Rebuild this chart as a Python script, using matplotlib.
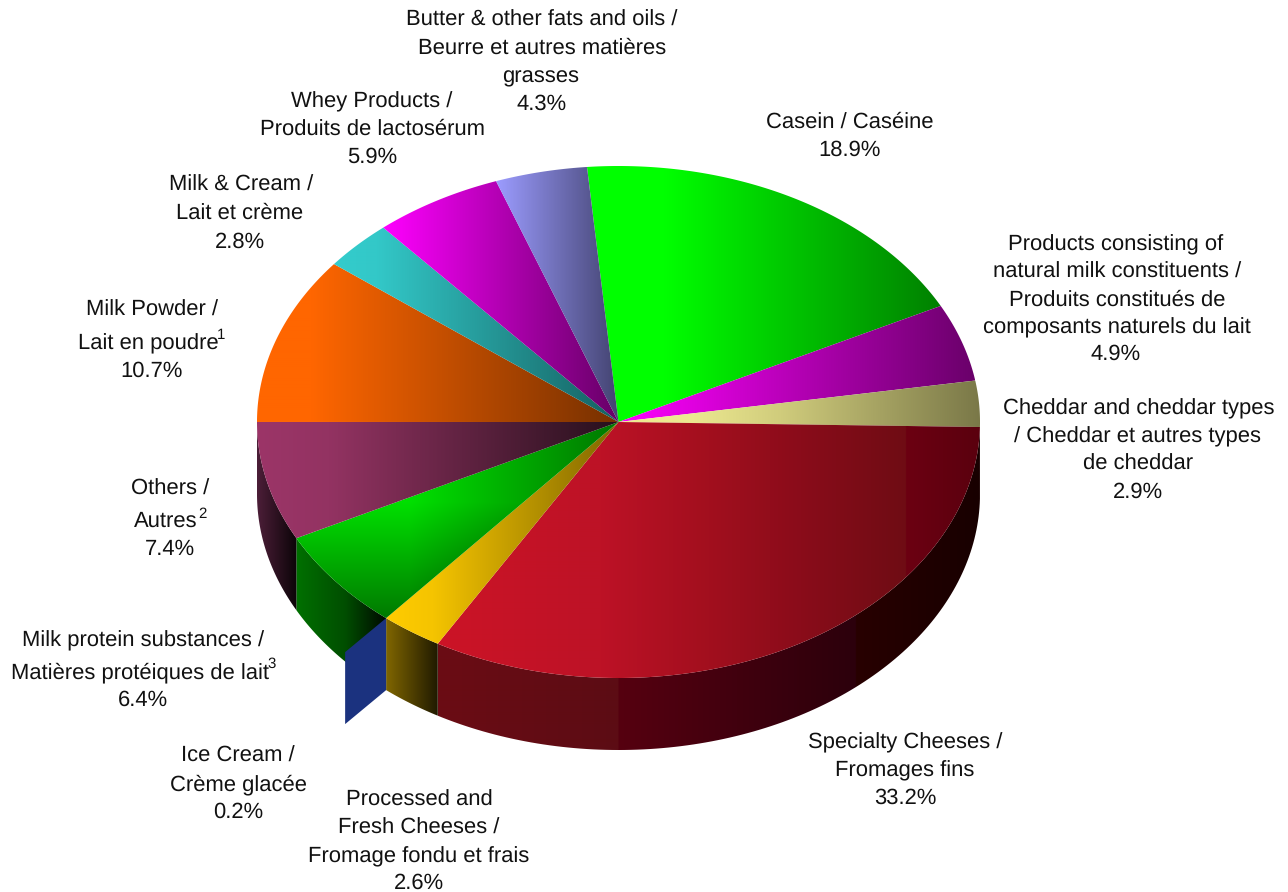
"""Dairy export shares drawn as a tilted 3D pie with gradient filled slices."""
import matplotlib

matplotlib.use("Agg")
import matplotlib.pyplot as plt
import numpy as np
from matplotlib.colors import to_rgb
from matplotlib.patches import Polygon

# Chart data, clockwise from the top
labels = [
    ["Casein / Caséine"],
    ["Products consisting of", "natural milk constituents /", "Produits constitués de", "composants naturels du lait"],
    ["Cheddar and cheddar types", "/ Cheddar et autres types", "de cheddar"],
    ["Specialty Cheeses /", "Fromages fins"],
    ["Processed and", "Fresh Cheeses /", "Fromage fondu et frais"],
    ["Ice Cream /", "Crème glacée"],
    ["Milk protein substances /", "Matières protéiques de lait"],
    ["Others /", "Autres"],
    ["Milk Powder /", "Lait en poudre"],
    ["Milk & Cream /", "Lait et crème"],
    ["Whey Products /", "Produits de lactosérum"],
    ["Butter & other fats and oils /", "Beurre et autres matières", "grasses"],
]
values = [18.9, 4.9, 2.9, 33.2, 2.6, 0.2, 6.4, 7.4, 10.7, 2.8, 5.9, 4.3]
# Slice sizes as measured on the drawn pie, they differ a bit from the printed labels
drawn_shares = [18.9, 4.9, 2.9, 33.02, 2.78, 0.0, 6.39, 7.5, 10.58, 3.14, 5.78, 4.11]
footnotes = [None, None, None, None, None, None, "3", "2", "1", None, None, None]

# Ice cream gets no sweep of its own, only the flap on the rim
FLAP_SLICE = 5
FLAP_OFFSET = (-41, 34)
FLAP_COLOR = "#1b327f"

# Pie geometry in pixels
CX, CY = 618.5, 422
RX, RY = 361.5, 256
DEPTH = 72
START_ANGLE = -5

# Gradients as (fraction of slice width, colour)
top_stops = [
    [(0, "#00ff00"), (0.22, "#00ff00"), (1, "#008000")],
    [(0, "#ff00ff"), (1, "#6a006a")],
    [(0, "#f0ec90"), (0.2, "#ece890"), (0.45, "#d0cc7c"), (1, "#7a7848")],
    [(0, "#cc1426"), (0.3, "#bd1226"), (0.5, "#a20f1e"), (0.668, "#8a0c1a"),
     (0.862, "#6f0d14"), (0.8621, "#6c0012"), (1, "#5a000e")],
    [(0, "#ffcc00"), (0.2, "#f5c400"), (1, "#7f6600")],
    None,
    None,
    [(0, "#9c3568"), (0.2, "#933362"), (1, "#26101c")],
    [(0, "#ff6600"), (0.15, "#ff6600"), (1, "#763000")],
    [(0, "#33cccc"), (0.15, "#33c8c8"), (1, "#156060")],
    [(0, "#ff00ff"), (1, "#660066")],
    [(0, "#9c9cff"), (1, "#434370")],
]
wall_stops = {
    3: [(0, "#6b0c14"), (0.332, "#5c0d14"), (0.3321, "#560010"), (0.77, "#2c000c"),
        (0.7701, "#280000"), (1, "#180000")],
    4: [(0, "#806600"), (1, "#201a00")],
    6: [(0, "#007000"), (0.55, "#004e00"), (1, "#000a00")],
    7: [(0, "#4c1e38"), (1, "#0c0408")],
}


def rim(angles):
    """Rim points for angles in degrees clockwise from north."""
    theta = np.radians(angles)
    return CX + RX * np.sin(theta), CY - RY * np.cos(theta)


def fill_gradient(ax, poly, stops):
    """Fill a polygon with a left-to-right gradient."""
    x0, x1 = poly[:, 0].min(), poly[:, 0].max()
    fracs = [s[0] for s in stops]
    colors = np.array([to_rgb(s[1]) for s in stops])
    xs = np.linspace(0, 1, int(x1 - x0) * 2 + 2)
    img = np.stack([np.interp(xs, fracs, colors[:, i]) for i in range(3)], axis=-1)[None]
    im = ax.imshow(
        img,
        extent=(x0, x1, poly[:, 1].max(), poly[:, 1].min()),
        aspect="auto",
        interpolation="bilinear",
        zorder=2,
    )
    im.set_clip_path(Polygon(poly, transform=ax.transData))


def fill_green_top(ax, poly):
    """The milk protein slice is lit from its upper left, so shade it in 2D."""
    x0, x1 = poly[:, 0].min(), poly[:, 0].max()
    y0, y1 = poly[:, 1].min(), poly[:, 1].max()
    xx, yy = np.meshgrid(np.arange(x0, x1 + 1), np.arange(y0, y1 + 1))
    level = 224 - 0.88 * np.clip(yy - 503, 0, None) - 0.5 * np.clip(xx - 410, 0, None)
    img = np.zeros(xx.shape + (3,))
    img[..., 1] = np.clip(level, 110, 255) / 255
    im = ax.imshow(img, extent=(x0, x1, y1, y0), aspect="auto", interpolation="bilinear", zorder=2)
    im.set_clip_path(Polygon(poly, transform=ax.transData))


def main():
    plt.rcParams["font.family"] = ["Liberation Sans", "DejaVu Sans"]
    plt.rcParams["text.hinting"] = "no_hinting"
    plt.rcParams["text.hinting_factor"] = 1
    fig = plt.figure(figsize=(12.88, 8.92), dpi=100)
    ax = fig.add_axes([0, 0, 1, 1])

    sweeps = np.array(drawn_shares) * 3.6
    ends = START_ANGLE + np.cumsum(sweeps)
    starts = ends - sweeps

    for i, (a0, a1) in enumerate(zip(starts, ends)):
        if i == FLAP_SLICE:
            continue

        # Side wall, only for the part of the rim that faces the viewer
        w0, w1 = max(a0, 90), min(a1, 270)
        if w1 > w0 and i in wall_stops:
            arc_x, arc_y = rim(np.linspace(w0, w1, 120))
            wall = np.column_stack(
                [np.r_[arc_x, arc_x[::-1]], np.r_[arc_y, arc_y[::-1] + DEPTH]]
            )
            fill_gradient(ax, wall, wall_stops[i])

        # Top face
        arc_x, arc_y = rim(np.linspace(a0, a1, 160))
        top = np.column_stack([np.r_[CX, arc_x], np.r_[CY, arc_y]])
        if top_stops[i] is None:
            fill_green_top(ax, top)
        else:
            fill_gradient(ax, top, top_stops[i])

    # Ice cream flap hanging off the rim
    fx, fy = rim(ends[FLAP_SLICE])
    ox, oy = FLAP_OFFSET
    ax.add_patch(
        Polygon(
            [(fx, fy), (fx + ox, fy + oy), (fx + ox, fy + oy + DEPTH), (fx, fy + DEPTH)],
            facecolor=FLAP_COLOR,
            edgecolor="none",
            zorder=3,
        )
    )

    # Label lines: (centre x, baseline y) per line, the percentage comes last
    line_pos = [
        [(850, 128), (850, 156)],
        [(1116, 250), (1117, 278), (1117, 306), (1117, 333), (1116, 360)],
        [(1139, 414), (1138, 442), (1138, 470), (1138, 498)],
        [(905, 748), (905, 776), (905, 804)],
        [(419, 806), (419, 834), (419, 862), (419, 889)],
        [(238, 762), (238, 790), (238, 818)],
        [(143, 646), (140, 678), (143, 706)],
        [(170, 495), (166, 527), (170, 555)],
        [(152, 316), (148, 349), (152, 377)],
        [(241, 191), (240, 219), (240, 248)],
        [(372, 107), (372, 135), (372, 163)],
        [(542, 26), (542, 54), (541, 82), (542, 110)],
    ]
    sup_pos = {6: (272, 668), 7: (202, 518), 8: (221, 339)}

    for i, lines in enumerate(labels):
        for text, (x, y) in zip(lines + [f"{values[i]}%"], line_pos[i]):
            ax.text(x, y, text, fontsize=15.8, ha="center", va="baseline", color="#111111")
        if footnotes[i]:
            x, y = sup_pos[i]
            ax.text(x, y, footnotes[i], fontsize=11, ha="center", va="baseline", color="#111111")

    ax.set_xlim(0, 1288)
    ax.set_ylim(892, 0)
    ax.axis("off")
    fig.savefig("out.png", dpi=100, facecolor="white")


if __name__ == "__main__":
    main()
